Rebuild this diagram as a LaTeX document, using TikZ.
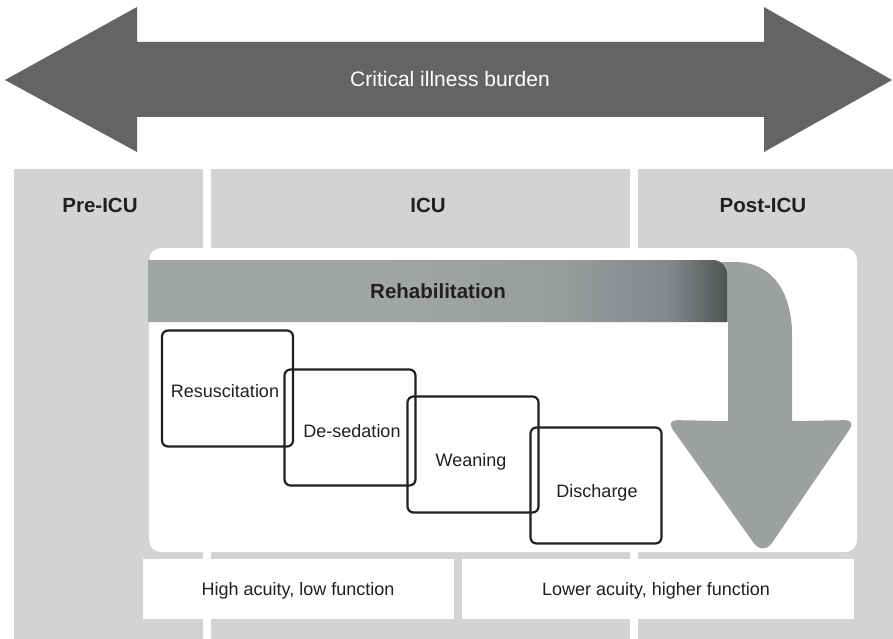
\documentclass[tikz,border=0pt]{standalone}
\usepackage{fontspec}
\setmainfont{Liberation Sans}
\definecolor{colgray}{HTML}{D1D3D4}
\definecolor{burden}{HTML}{636466}
\definecolor{bendgray}{HTML}{9DA0A1}
\definecolor{ink}{HTML}{231F20}
\definecolor{rehabA}{HTML}{A2A5A6}
\definecolor{rehabB}{HTML}{9A9D9E}
\definecolor{rehabC}{HTML}{85888A}
\definecolor{rehabD}{HTML}{505354}
% horizontal shading: the 25bp--75bp band is stretched over the bar
\pgfdeclarehorizontalshading{rehabshade}{100bp}{%
  color(0bp)=(rehabA); color(25bp)=(rehabA); color(45bp)=(rehabA);
  color(60bp)=(rehabB); color(70bp)=(rehabC); color(75bp)=(rehabD);
  color(100bp)=(rehabD)}
\begin{document}
\begin{tikzpicture}[x=1pt,y=-1pt,
  head/.style={font=\fontsize{20.5}{24}\selectfont\bfseries, text=ink, anchor=base, inner sep=0pt},
  plain/.style={font=\fontsize{18}{22}\selectfont, text=ink, anchor=base, inner sep=0pt},
  stepbox/.style={draw=ink, line width=2.2pt, rounded corners=6pt, minimum width=131pt, minimum height=116pt, inner sep=0pt},
  lowbox/.style={fill=white, minimum height=60pt, inner sep=0pt}]
\useasboundingbox (0,0) rectangle (893,639);

% critical illness burden double arrow
\fill[burden] (5,80) -- (137,7) -- (137,42) -- (764,42) -- (764,7) -- (892,80)
  -- (764,152) -- (764,117) -- (137,117) -- (137,152) -- cycle;
\node[font=\fontsize{21}{25}\selectfont, text=white, anchor=base, inner sep=0pt] (burdenlbl) at (450,87) {Critical illness burden};

% phase columns
\fill[colgray] (14,169) rectangle (203,639);
\fill[colgray] (211,169) rectangle (630,639);
\fill[colgray] (638,169) rectangle (893,639);
\node[head] (pre) at (100,212) {Pre-ICU};
\node[head] (icu) at (428,212) {ICU};
\node[head] (post) at (763,212) {Post-ICU};

% white panel
\fill[white, rounded corners=12pt] (149,248) rectangle (857,552);

% bent arrow turning downwards
\fill[bendgray] (712,262) -- (735,262) .. controls (772,262) and (792,292) .. (792,335)
  -- (792,421) [rounded corners=11pt] -- (856,420) [rounded corners=16pt] -- (763,556)
  [rounded corners=11pt] -- (666,420) [sharp corners] -- (728,421) -- (728,322) -- (712,322) -- cycle;

% rehabilitation bar
\shade[shading=rehabshade] (148,260) -- (712,260) [rounded corners=14pt] -- (727,260) [sharp corners] -- (727,322) -- (148,322) -- cycle;
\node[head] (rehab) at (438,298) {Rehabilitation};

% overlapping stages
\node[stepbox] (s1) at (227.5,388.5) {};
\node[stepbox] (s2) at (350,427.5) {};
\node[stepbox] (s3) at (473,454.5) {};
\node[stepbox] (s4) at (596,485.5) {};
\node[plain] (s1lbl) at (225,397) {Resuscitation};
\node[plain] (s2lbl) at (352,437) {De-sedation};
\node[plain] (s3lbl) at (471,466) {Weaning};
\node[plain] (s4lbl) at (597,497) {Discharge};

% acuity boxes
\node[lowbox, minimum width=311pt] (high) at (298.5,589) {};
\node[lowbox, minimum width=392pt] (low) at (658,589) {};
\node[plain] (highlbl) at (298,595) {High acuity, low function};
\node[plain] (lowlbl) at (656,595) {Lower acuity, higher function};
\end{tikzpicture}
\end{document}
